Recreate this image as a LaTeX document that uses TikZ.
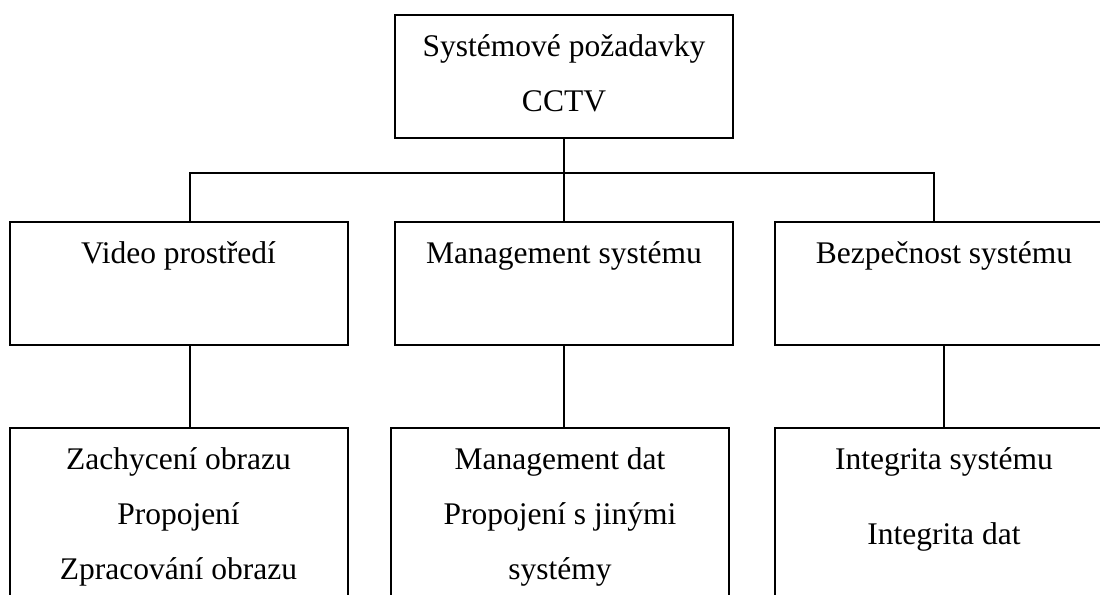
\documentclass[tikz,border=0pt]{standalone}
\usepackage{fontspec}
\setmainfont{Liberation Serif}

\begin{document}
\begin{tikzpicture}[x=0.5pt,y=-0.5pt,
	box/.style={draw,line width=1pt,anchor=north,inner xsep=0pt,inner ysep=0pt,minimum width=169pt,align=center,font=\fontsize{15.75pt}{27.5pt}\selectfont},
	headbox/.style={box,text height=20.5pt,text depth=41pt},
	itembox/.style={box,text height=75.5pt,text depth=21pt},
	link/.style={line width=0.75pt}]
	\clip (0,0) rectangle (1100,595);
	\node[headbox,text height=48pt,text depth=13.5pt] (req) at (564,14) {Systémové požadavky\\CCTV};
	\node[headbox] (video) at (178.5,221) {Video prostředí};
	\node[headbox] (mgmt) at (564,221) {Management systému};
	\node[headbox] (secur) at (944,221) {Bezpečnost systému};
	\node[itembox] (videoitems) at (178.5,427) {Zachycení obrazu\\Propojení\\Zpracování obrazu};
	\node[itembox] (mgmtitems) at (560,427) {Management dat\\Propojení s jinými\\systémy};
	\node[itembox,text height=58pt,text depth=38.5pt] (securitems) at (944,427) {Integrita systému\\[10pt]Integrita dat};
	\coordinate (busL) at (190,173);
	\coordinate (busR) at (934,173);
	\draw[link] (req.south) -- (mgmt.north);
	\draw[link] (busL |- video.north) |- (busR) -- (busR |- secur.north);
	\draw[link] (busL |- video.south) -- (busL |- videoitems.north);
	\draw[link] (mgmt.south) -- (mgmt.south |- mgmtitems.north);
	\draw[link] (secur.south) -- (securitems.north);
\end{tikzpicture}
\end{document}
